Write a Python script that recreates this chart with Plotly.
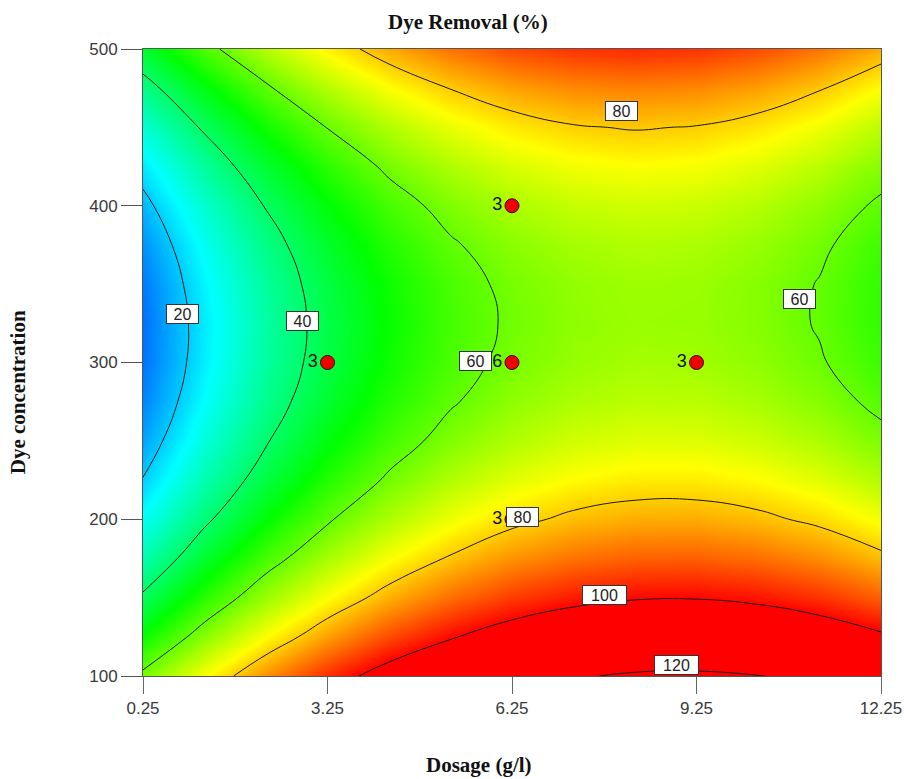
import plotly.graph_objects as go

# ---- data ----
dosage_grid = [0.25, 1.25, 2.25, 3.25, 4.25, 5.25, 6.25, 7.25, 8.25, 9.25, 10.25, 11.25, 12.25]
conc_grid = [100, 125, 150, 175, 200, 225, 250, 275, 300, 325, 350, 375, 400, 425, 450, 475, 500]
# Dye removal (%) on the grid: one row per concentration, one column per dosage
removal = [
    [61.7, 74.6, 86.0, 95.8, 104.0, 110.6, 115.7, 119.2, 121.1, 121.5, 120.3, 117.5, 113.1],
    [50.8, 63.6, 74.9, 84.6, 92.8, 99.3, 104.3, 107.7, 109.6, 109.9, 108.6, 105.7, 101.3],
    [41.2, 53.9, 65.2, 74.8, 82.9, 89.4, 94.3, 97.6, 99.4, 99.6, 98.2, 95.3, 90.8],
    [32.9, 45.6, 56.7, 66.3, 74.3, 80.7, 85.6, 88.8, 90.5, 90.7, 89.2, 86.2, 81.6],
    [25.9, 38.5, 49.6, 59.1, 67.0, 73.4, 78.2, 81.4, 83.0, 83.1, 81.5, 78.5, 73.8],
    [20.3, 32.8, 43.8, 53.3, 61.1, 67.4, 72.1, 75.2, 76.8, 76.8, 75.2, 72.0, 67.3],
    [16.0, 28.5, 39.4, 48.7, 56.5, 62.7, 67.3, 70.4, 71.9, 71.8, 70.1, 66.9, 62.1],
    [13.0, 25.4, 36.2, 45.5, 53.2, 59.3, 63.9, 66.9, 68.3, 68.2, 66.4, 63.1, 58.2],
    [11.3, 23.6, 34.4, 43.6, 51.3, 57.3, 61.8, 64.7, 66.1, 65.8, 64.0, 60.6, 55.7],
    [11.0, 23.2, 33.9, 43.1, 50.6, 56.6, 61.0, 63.9, 65.1, 64.8, 63.0, 59.5, 54.5],
    [12.0, 24.2, 34.8, 43.8, 51.3, 57.2, 61.6, 64.3, 65.5, 65.2, 63.2, 59.7, 54.6],
    [14.3, 26.4, 36.9, 45.9, 53.4, 59.2, 63.5, 66.1, 67.3, 66.8, 64.8, 61.2, 56.0],
    [17.9, 30.0, 40.4, 49.4, 56.7, 62.5, 66.7, 69.3, 70.3, 69.8, 67.7, 64.0, 58.8],
    [22.9, 34.9, 45.3, 54.1, 61.4, 67.1, 71.2, 73.7, 74.7, 74.1, 71.9, 68.2, 62.9],
    [29.2, 41.1, 51.4, 60.2, 67.4, 73.0, 77.0, 79.5, 80.4, 79.7, 77.5, 73.7, 68.3],
    [36.8, 48.6, 58.9, 67.6, 74.7, 80.2, 84.2, 86.6, 87.4, 86.7, 84.4, 80.5, 75.0],
    [45.7, 57.5, 67.7, 76.3, 83.3, 88.8, 92.7, 95.0, 95.8, 95.0, 92.6, 88.6, 83.1],
]
contour_levels = [20, 40, 60, 80, 100, 120]

design_dosage = [3.25, 6.25, 6.25, 6.25, 9.25]
design_conc = [300, 400, 300, 200, 300]
replicates = ["3", "3", "6", "3", "3"]

x_ticks = [0.25, 3.25, 6.25, 9.25, 12.25]
y_ticks = [100, 200, 300, 400, 500]

# ---- figure ----
fig = go.Figure()

fig.add_trace(go.Contour(
    x=dosage_grid, y=conc_grid, z=removal,
    zmin=0, zmax=100, zauto=False,
    colorscale=[[0.0, "#0000ff"], [0.25, "#00ffff"], [0.5, "#00ff00"],
                [0.75, "#ffff00"], [1.0, "#ff0000"]],
    autocontour=False,
    contours=dict(start=contour_levels[0], end=contour_levels[-1],
                  size=contour_levels[1] - contour_levels[0],
                  coloring="heatmap", showlines=True, showlabels=False),
    line=dict(color="#1a1a1a", width=1, smoothing=1.3),
    showscale=False, hoverinfo="skip",
))

fig.add_trace(go.Scatter(
    x=design_dosage, y=design_conc, mode="markers+text",
    text=replicates, textposition="middle left",
    textfont=dict(family="Liberation Sans, Arial, sans-serif", size=18, color="#111111"),
    marker=dict(color="#ee0000", size=14, line=dict(color="#3a0000", width=1)),
    showlegend=False, hoverinfo="skip",
))

# contour labels (white boxes), text taken from the contour levels
label_spots = [
    (0, 0.889, 330.7), (1, 2.84, 326.3), (2, 5.66, 301.0), (2, 10.92, 340.6),
    (3, 8.03, 460.6), (3, 6.42, 201.2), (4, 7.75, 151.7), (5, 8.93, 107.0),
]
annotations = []
for idx, lx, ly in label_spots:
    txt = str(contour_levels[idx])
    annotations.append(dict(
        x=lx, y=ly, xref="x", yref="y", text=txt, showarrow=False,
        font=dict(family="Liberation Sans, Arial, sans-serif", size=16, color="#222222"),
        bgcolor="white", bordercolor="#333333", borderwidth=1, borderpad=1,
        width=29 if len(txt) == 2 else 41, height=16,
    ))

title_font = dict(family="Liberation Serif, Times New Roman, serif", size=21, color="#111111")
annotations += [
    dict(text="<b>Dye Removal (%)</b>", xref="paper", yref="paper", x=0.440, y=1.0436,
         showarrow=False, font=title_font, xanchor="center", yanchor="middle"),
    dict(text="<b>Dosage (g/l)</b>", xref="paper", yref="paper", x=0.455, y=-0.142,
         showarrow=False, font=title_font, xanchor="center", yanchor="middle"),
    dict(text="<b>Dye concentration</b>", xref="paper", yref="paper", x=-0.169, y=0.453,
         showarrow=False, font=title_font, xanchor="center", yanchor="middle", textangle=-90),
]

tick_font = dict(family="Liberation Sans, Arial, sans-serif", size=17, color="#3a3a3a")
fig.update_layout(
    width=904, height=779,
    margin=dict(l=143, r=23, t=49, b=103, autoexpand=False),
    paper_bgcolor="white", plot_bgcolor="white",
    annotations=annotations,
    showlegend=False,
    xaxis=dict(range=[0.25, 12.25], tickvals=x_ticks, ticktext=[str(v) for v in x_ticks],
               ticks="outside", ticklen=17, tickwidth=1, tickcolor="#666666",
               showline=True, linecolor="#555555", linewidth=1, mirror=True,
               showgrid=False, zeroline=False, tickfont=tick_font, automargin=False),
    yaxis=dict(range=[100, 500], tickvals=y_ticks, ticktext=[str(v) for v in y_ticks],
               ticks="outside", ticklen=21, tickwidth=1, tickcolor="#555555",
               showline=True, linecolor="#555555", linewidth=1, mirror=True,
               showgrid=False, zeroline=False, tickfont=tick_font, automargin=False),
)

fig.write_html("out.html")
